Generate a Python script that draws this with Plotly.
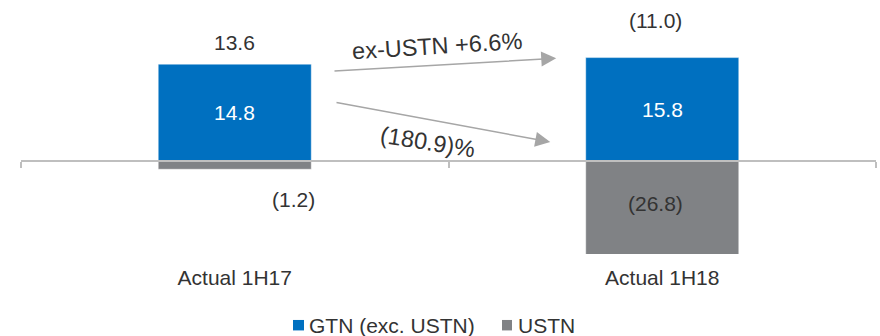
import plotly.graph_objects as go

# ---------------- data ----------------
categories = ["Actual 1H17", "Actual 1H18"]
series_names = ["GTN (exc. USTN)", "USTN"]
gtn_values = [14.8, 15.8]
ustn_values = [-1.2, -26.8]
total_values = [13.6, -11.0]
growth_labels = ["ex-USTN +6.6%", "(180.9)%"]

# ---------------- style ----------------
BLUE = "#0070C0"
GREY = "#808285"
TEXT = "#333333"
AXIS = "#BFBFBF"
ARROW = "#A6A6A6"
FONT = "Arial, Liberation Sans, sans-serif"
FS = 21
FS_G = 23.5

W, H = 880, 336
ML, MR, MT, MB = 21, 4, 29.5, 81.7
Y_MIN, Y_MAX = -14.1, 20.0
BAR_W = 0.358

PW = W - ML - MR
PH = H - MT - MB


def px_x(px):
    return (px - ML) / PW


def px_y(py):
    return (H - MB - py) / PH


def fmt(v):
    return f"{v:.1f}" if v >= 0 else f"({-v:.1f})"


zero_frac = (0 - Y_MIN) / (Y_MAX - Y_MIN)

fig = go.Figure()
fig.add_bar(
    x=categories, y=gtn_values, name=series_names[0], width=BAR_W,
    marker=dict(color=BLUE, line=dict(color="rgba(255,255,255,0.45)", width=1)),
    showlegend=False, hoverinfo="skip",
)
fig.add_bar(
    x=categories, y=ustn_values, name=series_names[1], width=BAR_W,
    marker=dict(color=GREY, line=dict(color="rgba(255,255,255,0.45)", width=1)),
    showlegend=False, hoverinfo="skip",
)
# invisible helper trace so the boundary-tick axis knows its categories
fig.add_scatter(
    x=categories, y=[0, 0], xaxis="x2", mode="markers",
    marker=dict(opacity=0), showlegend=False, hoverinfo="skip",
)

ann = []
# GTN values inside bars
for c, v in zip(categories, gtn_values):
    ann.append(dict(x=c, y=v / 2, text=fmt(v), showarrow=False,
                    font=dict(color="white", size=FS, family=FONT)))
# totals above bars
total_shift = [(0, 22), (-7, 37)]
for c, v, t, (dx, dy) in zip(categories, gtn_values, total_values, total_shift):
    ann.append(dict(x=c, y=v, text=fmt(t), showarrow=False, xshift=dx, yshift=dy,
                    yanchor="middle", font=dict(color=TEXT, size=FS, family=FONT)))
# USTN values
ustn_shift = [(59, -30), (-7, 4)]
for c, v, (dx, dy), i in zip(categories, ustn_values, ustn_shift, range(2)):
    yv = v if i == 0 else max(v, Y_MIN) / 2
    ann.append(dict(x=c, y=yv, text=fmt(v), showarrow=False, xshift=dx, yshift=dy,
                    yanchor="middle", font=dict(color=TEXT, size=FS, family=FONT)))

# growth arrows
ann.append(dict(x=0.752, y=15.7, ax=0.2298, ay=13.75, axref="x", ayref="y",
                xref="x", yref="y", text="", showarrow=True, arrowhead=2,
                arrowsize=2, arrowwidth=1.5, arrowcolor=ARROW))
ann.append(dict(x=0.738, y=2.95, ax=0.2345, ay=9.0, axref="x", ayref="y",
                xref="x", yref="y", text="", showarrow=True, arrowhead=2,
                arrowsize=2, arrowwidth=1.5, arrowcolor=ARROW))
ann.append(dict(x=0.4754, y=17.5, text=growth_labels[0], showarrow=False,
                textangle=-3.5, font=dict(color=TEXT, size=FS_G, family=FONT)))
ann.append(dict(x=0.4497, y=2.93, text=growth_labels[1], showarrow=False,
                textangle=9, font=dict(color=TEXT, size=FS_G, family=FONT)))

# custom legend
shapes = []
legend_items = [(293, 304, 307, BLUE), (502, 512, 516, GREY)]
for name, (sx0, sx1, tx, col) in zip(series_names, legend_items):
    shapes.append(dict(type="rect", xref="paper", yref="paper",
                       x0=px_x(sx0), x1=px_x(sx1), y0=px_y(331), y1=px_y(320.5),
                       fillcolor=col, line=dict(width=0)))
    ann.append(dict(xref="paper", yref="paper", x=px_x(tx), y=px_y(326),
                    xanchor="left", yanchor="middle", text=name, showarrow=False,
                    font=dict(color=TEXT, size=FS, family=FONT)))

fig.update_layout(
    width=W, height=H,
    margin=dict(l=ML, r=MR, t=MT, b=MB, pad=0),
    paper_bgcolor="white", plot_bgcolor="white",
    barmode="relative",
    font=dict(family=FONT, color=TEXT, size=FS),
    xaxis=dict(type="category", categoryorder="array", categoryarray=categories,
               range=[-0.5, 1.5], showline=False, ticks="", showgrid=False,
               zeroline=False, ticklabelstandoff=9,
               tickfont=dict(size=FS, color=TEXT, family=FONT)),
    xaxis2=dict(overlaying="x", anchor="free", position=zero_frac, side="bottom",
                type="category", categoryorder="array", categoryarray=categories,
                range=[-0.5, 1.5], showline=True, linecolor=AXIS, linewidth=1.5,
                ticks="outside", tickson="boundaries", ticklen=6, tickwidth=1.5,
                tickcolor=AXIS, showticklabels=False, showgrid=False,
                zeroline=False, layer="above traces"),
    yaxis=dict(range=[Y_MIN, Y_MAX], showticklabels=False, showgrid=False,
               zeroline=False, showline=False, ticks=""),
    annotations=ann,
    shapes=shapes,
)

fig.write_html("out.html")
